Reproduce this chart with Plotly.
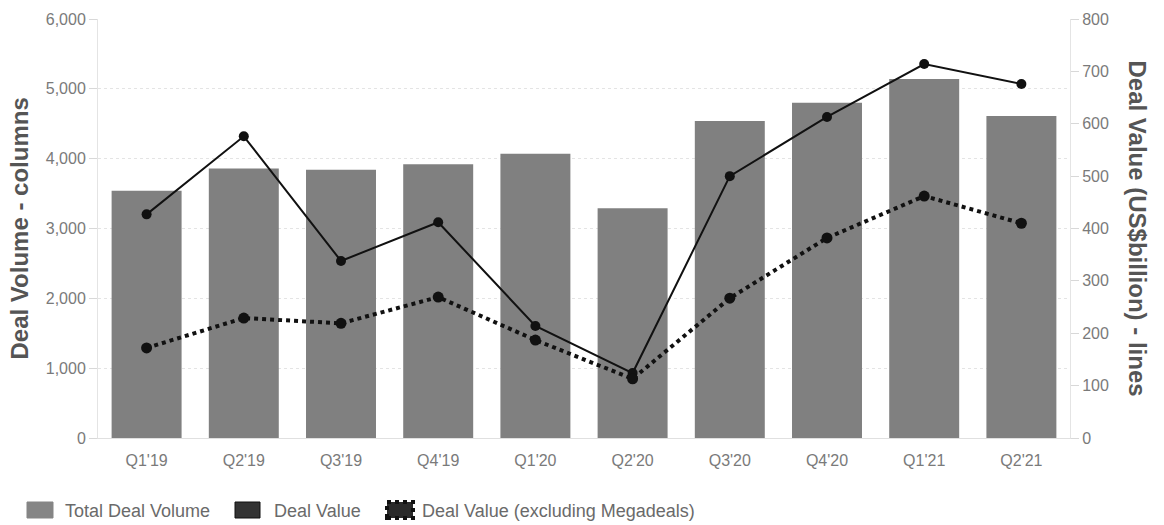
import plotly.graph_objects as go

quarters = ["Q1'19", "Q2'19", "Q3'19", "Q4'19", "Q1'20", "Q2'20", "Q3'20", "Q4'20", "Q1'21", "Q2'21"]
deal_volume = [3540, 3860, 3840, 3920, 4070, 3290, 4540, 4800, 5140, 4610]
deal_value = [427, 576, 338, 412, 214, 124, 500, 613, 714, 676]
deal_value_ex_mega = [172, 229, 219, 269, 187, 113, 267, 382, 462, 410]

vol_ticks = [0, 1000, 2000, 3000, 4000, 5000, 6000]
val_ticks = [0, 100, 200, 300, 400, 500, 600, 700, 800]

legend_names = ["Total Deal Volume", "Deal Value", "Deal Value (excluding Megadeals)"]

GRID = "#e4e4e4"
TICK_TXT = "#7a7a7a"
TITLE_TXT = "#555555"
FONT = "Liberation Sans, Arial, sans-serif"

W, H = 1164, 525
ML, MR, MT, MB = 98, 94, 19, 87
PW, PH = W - ML - MR, H - MT - MB


def px_x(px):
    """Pixel column -> paper x."""
    return (px - ML) / PW


def px_y(py):
    """Pixel row (from top) -> paper y."""
    return (H - MB - py) / PH


fig = go.Figure()

fig.add_trace(go.Bar(
    x=quarters, y=deal_volume, name=legend_names[0],
    marker=dict(color="#808080", line=dict(width=0)),
    width=0.72, yaxis="y",
))

fig.add_trace(go.Scatter(
    x=quarters, y=deal_value, name=legend_names[1], mode="lines+markers",
    line=dict(color="#111111", width=2),
    marker=dict(color="#111111", size=10),
    yaxis="y2",
))

fig.add_trace(go.Scatter(
    x=quarters, y=deal_value_ex_mega, name=legend_names[2],
    mode="lines+markers",
    line=dict(color="#111111", width=4, dash="dot"),
    marker=dict(color="#111111", size=11),
    yaxis="y2",
))

# hand-drawn legend: square swatches followed by labels
shapes = []
annotations = []
swatches = [
    dict(x0=27, x1=53, fill="#858585", line=dict(color="#858585", width=1)),
    dict(x0=235, x1=260, fill="#333333", line=dict(color="#111111", width=1)),
    dict(x0=387, x1=413, fill="#2a2a2a", line=dict(color="#111111", width=4, dash="dot")),
]
label_x = [63, 272, 420]
for sw, lx, name in zip(swatches, label_x, legend_names):
    shapes.append(dict(
        type="rect", xref="paper", yref="paper",
        x0=px_x(sw["x0"]), x1=px_x(sw["x1"]),
        y0=px_y(518), y1=px_y(502),
        fillcolor=sw["fill"], line=sw["line"],
    ))
    annotations.append(dict(
        text=name, xref="paper", yref="paper",
        x=px_x(lx), y=px_y(510.5), xanchor="left", yanchor="middle",
        showarrow=False, font=dict(size=18, color="#6a6a6a", family=FONT),
    ))

annotations += [
    dict(text="<b>Deal Volume - columns</b>", xref="paper", yref="paper",
         x=px_x(19), y=0.5, xanchor="center", yanchor="middle", textangle=-90,
         showarrow=False, font=dict(size=24, color=TITLE_TXT, family=FONT)),
    dict(text="<b>Deal Value (US$billion) - lines</b>", xref="paper", yref="paper",
         x=px_x(1137), y=0.5, xanchor="center", yanchor="middle", textangle=90,
         showarrow=False, font=dict(size=24, color=TITLE_TXT, family=FONT)),
]

fig.update_layout(
    width=W, height=H,
    margin=dict(l=ML, r=MR, t=MT, b=MB),
    plot_bgcolor="white", paper_bgcolor="white",
    barmode="overlay", showlegend=False,
    font=dict(family=FONT, color=TICK_TXT, size=16),
    xaxis=dict(
        type="category", categoryorder="array", categoryarray=quarters,
        showgrid=False, showline=True, linecolor="#e0e0e0", linewidth=1,
        ticks="", tickfont=dict(size=16, color=TICK_TXT),
        ticklabelstandoff=8, range=[-0.5, 9.5],
    ),
    yaxis=dict(
        range=[0, 6000], tickvals=vol_ticks, tickformat=",d",
        showgrid=True, gridcolor=GRID, griddash="dot", gridwidth=1,
        showline=True, linecolor=GRID, linewidth=1,
        ticks="outside", ticklen=8, tickcolor="#d8d8d8",
        tickfont=dict(size=16, color=TICK_TXT), zeroline=False,
    ),
    yaxis2=dict(
        range=[0, 800], tickvals=val_ticks, overlaying="y", side="right",
        showgrid=False, showline=True, linecolor=GRID, linewidth=1,
        ticks="outside", ticklen=8, tickcolor="#d8d8d8",
        tickfont=dict(size=16, color=TICK_TXT), zeroline=False,
    ),
    shapes=shapes,
    annotations=annotations,
)

fig.write_html("out.html")
